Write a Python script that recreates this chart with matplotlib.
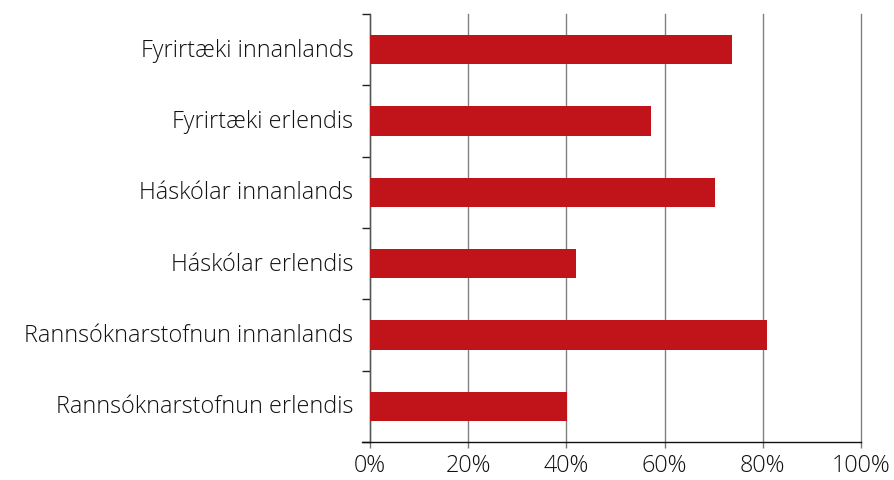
import matplotlib
matplotlib.use("Agg")
import matplotlib.pyplot as plt
import matplotlib.transforms as mtransforms
import numpy as np
from matplotlib.ticker import FixedLocator, PercentFormatter

categories = [
    "Fyrirtæki innanlands",
    "Fyrirtæki erlendis",
    "Háskólar innanlands",
    "Háskólar erlendis",
    "Rannsóknarstofnun innanlands",
    "Rannsóknarstofnun erlendis",
]
values = [73.8, 57.2, 70.3, 42.0, 80.9, 40.1]
x_ticks = [0, 20, 40, 60, 80, 100]

plt.rcParams['font.family'] = ['Open Sans', 'DejaVu Sans']
plt.rcParams['font.weight'] = 'light'

fig = plt.figure(figsize=(8.95, 4.8), dpi=100)
ax = fig.add_axes([370/895, 1-442/480, (861-370)/895, (442-14)/480])

y = np.arange(len(categories))
ax.barh(y, values, height=0.41, color="#C1141A", zorder=3)
ax.set_ylim(len(categories)-0.5, -0.5)
ax.set_xlim(0, 100)

ax.set_yticks(y)
ax.set_yticklabels(categories, fontsize=16.8, color="#111111")
ax.yaxis.set_minor_locator(FixedLocator(np.arange(-0.5, len(categories)+0.5, 1)))
ax.tick_params(axis='y', which='major', length=0, pad=12)
ax.tick_params(axis='y', which='minor', length=6, width=1, color='#222222')
offset = mtransforms.ScaledTranslation(0, 2/100, fig.dpi_scale_trans)
for lab in ax.get_yticklabels():
    lab.set_transform(lab.get_transform() + offset)

ax.set_xticks(x_ticks)
ax.xaxis.set_major_formatter(PercentFormatter(decimals=0))
ax.tick_params(axis='x', which='major', length=4.5, width=1, color='#777777', pad=4,
               labelsize=16.8, labelcolor='#111111')

ax.grid(axis='x', color='#808080', linewidth=1, zorder=1)
for gl in ax.get_xgridlines():
    gl.set_clip_on(False)
ax.grid(axis='y', visible=False)

for s in ['top', 'right']:
    ax.spines[s].set_visible(False)
ax.spines['left'].set_color('#555555')
ax.spines['left'].set_linewidth(1)
ax.spines['bottom'].set_color('#111111')
ax.spines['bottom'].set_linewidth(1)
ax.spines['bottom'].set_bounds(-1.6, 100)

fig.savefig("out.png", dpi=100)
